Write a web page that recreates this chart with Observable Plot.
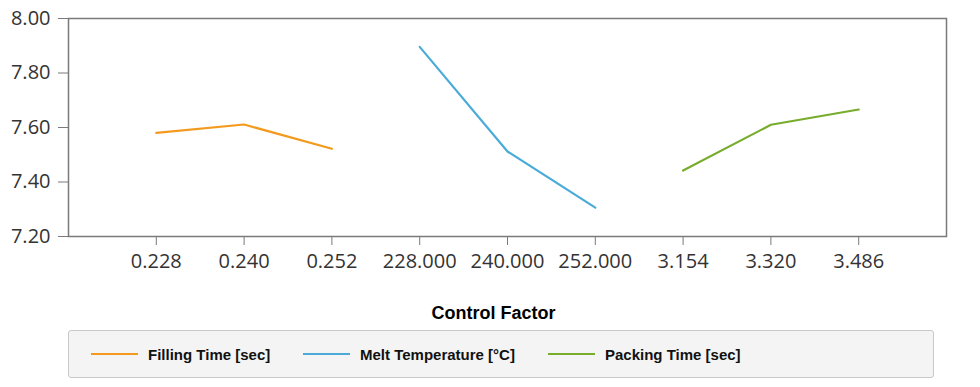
<!DOCTYPE html>
<html><head><meta charset="utf-8">
<script src="https://cdn.jsdelivr.net/npm/d3@7"></script>
<script src="https://cdn.jsdelivr.net/npm/@observablehq/plot@0.6"></script>
<style>
body{margin:0;background:#fff;}
#wrap{position:relative;width:980px;height:387px;overflow:hidden;}
#chart{position:absolute;left:0;top:0;}
#chart svg text{font-size:20px;}
#title{position:absolute;left:0;width:987px;top:303px;text-align:center;font:bold 18px "Liberation Sans",Arial,sans-serif;color:#000;}
#legend{position:absolute;left:68px;top:330px;width:864px;height:46px;background:#f4f4f4;border:1px solid #c9c9c9;border-radius:3px;}
.item{position:absolute;top:0;height:46px;display:flex;align-items:center;font:bold 15px "Liberation Sans",Arial,sans-serif;color:#111;}
.sw{display:inline-block;width:47px;height:2px;margin-right:10px;}
</style></head><body>
<div id="wrap"><div id="chart"></div><div id="title"></div><div id="legend"></div></div>
<script>
const factors = ["Filling Time [sec]", "Melt Temperature [°C]", "Packing Time [sec]"];
const fillingLevels = ["0.228", "0.240", "0.252"];
const meltLevels = ["228.000", "240.000", "252.000"];
const packingLevels = ["3.154", "3.320", "3.486"];
const fillingValues = [7.580, 7.611, 7.522];
const meltValues = [7.896, 7.512, 7.306];
const packingValues = [7.442, 7.610, 7.666];
const colors = ["#f39a1e", "#4aabd8", "#77ac2c"];
const yTicks = [7.2, 7.4, 7.6, 7.8, 8.0];
const xTitle = "Control Factor";

const levels = [fillingLevels, meltLevels, packingLevels];
const values = [fillingValues, meltValues, packingValues];
const data = [];
factors.forEach((f, i) => levels[i].forEach((l, j) => data.push({factor: f, level: l, value: values[i][j]})));

const chart = Plot.plot({
  width: 980, height: 290,
  marginTop: 18, marginLeft: 68, marginRight: 34, marginBottom: 54,
  style: {fontFamily: "'Open Sans', sans-serif", fontSize: "20px", color: "#333", background: "transparent"},
  x: {type: "point", domain: levels.flat(), padding: 1, label: null, round: false},
  y: {domain: [7.2, 8.0], label: null},
  color: {domain: factors, range: colors},
  marks: [
    Plot.axisY({ticks: yTicks, tickFormat: d => d.toFixed(2), tickSize: 10, tickPadding: 8, fontSize: 20, stroke: "#7a7a7a", label: null}),
    Plot.axisX({tickSize: 9, tickPadding: 8, fontSize: 20, stroke: "#7a7a7a", label: null}),
    Plot.frame({stroke: "#7a7a7a", strokeWidth: 1.5}),
    Plot.line(data, {x: "level", y: "value", z: "factor", stroke: "factor", strokeWidth: 2.2})
  ]
});
document.getElementById("chart").appendChild(chart);
document.getElementById("title").textContent = xTitle;

const lefts = [22, 234, 479];
const leg = document.getElementById("legend");
factors.forEach((f, i) => {
  const it = document.createElement("div");
  it.className = "item";
  it.style.left = lefts[i] + "px";
  const sw = document.createElement("span");
  sw.className = "sw";
  sw.style.background = colors[i];
  it.appendChild(sw);
  it.appendChild(document.createTextNode(f));
  leg.appendChild(it);
});
</script>
</body></html>
